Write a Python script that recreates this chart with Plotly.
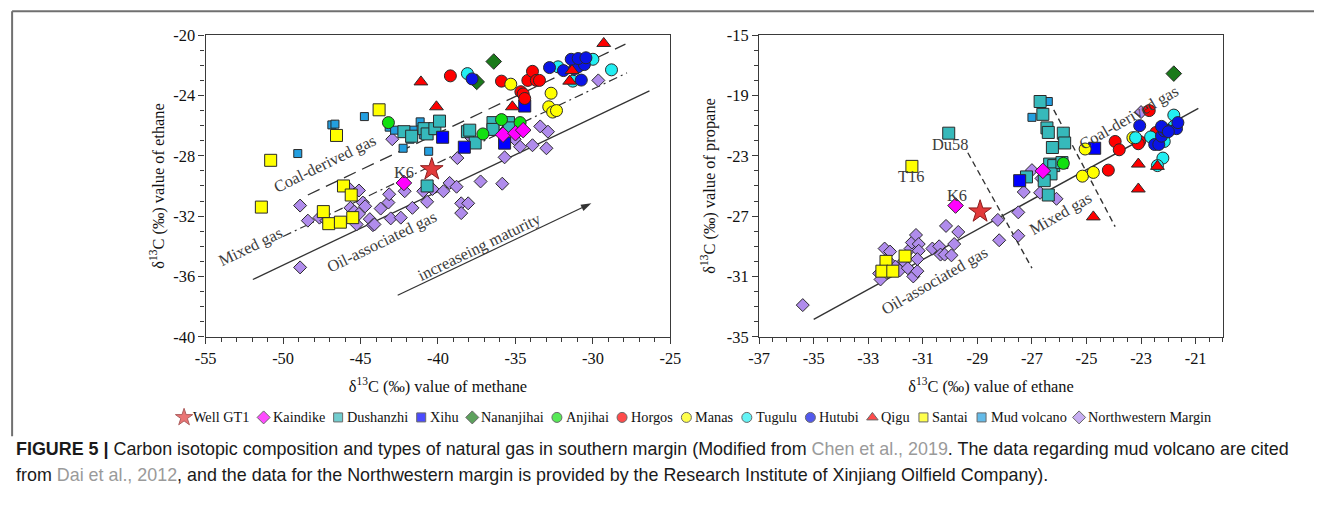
import plotly.graph_objects as go

# ---------------- DATA ----------------
# Left panel: delta13C methane (x) vs ethane (y)
gt1_c1 = [-40.4]
gt1_c2 = [-28.9]
kaindike_c1 = [-42.2, -35.8, -35.0, -34.5]
kaindike_c2 = [-29.8, -26.6, -26.5, -26.3]
dushanzhi_c1 = [-42.2, -41.7, -40.9, -40.7, -40.2, -39.9, -38.1, -37.6, -36.45, -36.45, -35.45, -35.4, -37.95, -40.7]
dushanzhi_c2 = [-26.4, -26.7, -26.2, -26.55, -26.2, -25.7, -26.4, -27.15, -25.8, -26.25, -25.8, -26.15, -26.3, -30.0]
xihu_c1 = [-39.7, -38.3, -35.7, -34.4]
xihu_c2 = [-26.77, -27.43, -27.16, -24.7]
nananjihai_c1 = [-36.4, -37.5]
nananjihai_c2 = [-21.75, -23.1]
anjihai_c1 = [-43.2, -37.1, -35.9, -34.7]
anjihai_c2 = [-25.8, -26.55, -25.6, -25.8]
horgos_c1 = [-39.2, -35.9, -34.2, -33.9, -33.65, -33.45, -34.65, -34.5, -34.4]
horgos_c2 = [-22.7, -23.05, -23.0, -22.4, -23.0, -23.0, -23.75, -23.9, -24.2]
manas_c1 = [-35.3, -32.7, -32.85, -32.6, -32.35]
manas_c2 = [-23.25, -23.85, -24.75, -25.1, -25.0]
tugulu_c1 = [-38.1, -32.25, -31.3, -30.0, -28.8]
tugulu_c2 = [-22.55, -22.1, -23.05, -21.6, -22.3]
hutubi_c1 = [-37.8, -32.8, -31.9, -31.2, -30.95, -30.55, -31.4, -30.95, -30.45, -30.75]
hutubi_c2 = [-22.9, -22.15, -22.35, -22.25, -22.1, -21.95, -21.6, -21.55, -21.5, -22.98]
qigu_c1 = [-41.1, -40.1, -35.2, -31.5, -31.35, -29.3]
qigu_c2 = [-23.1, -24.75, -24.75, -23.05, -22.35, -20.55]
santai_c1 = [-50.8, -51.4, -46.1, -45.6, -47.4, -47.05, -46.3, -45.5, -43.8, -46.55]
santai_c2 = [-28.3, -31.4, -30.0, -30.6, -31.7, -32.5, -32.4, -32.1, -24.95, -26.65]
mud_c1 = [-44.75, -46.85, -46.65, -49.05, -43.15, -42.8, -42.25, -41.8, -41.6, -41.15, -40.95, -40.6]
mud_c2 = [-25.4, -25.95, -25.9, -27.85, -26.1, -26.3, -27.5, -26.9, -26.3, -25.75, -26.6, -27.7]
nw_c1 = [-48.9, -48.9, -48.4, -47.65, -47.2, -45.8, -45.65, -45.4, -45.25, -45.1, -45.1, -44.85,
         -44.7, -44.4, -44.2, -44.1, -43.7, -43.2, -43.15, -43.05, -42.95, -42.4, -42.15, -41.65,
         -40.95, -40.7, -40.35, -39.65, -39.25, -38.8, -38.75, -38.5, -38.5, -38.05, -38.0, -37.25,
         -35.7, -35.85, -35.85, -35.05, -34.7, -33.9, -33.4, -33.0, -32.9, -29.65, -37.95]
nw_c2 = [-31.3, -35.4, -32.3, -32.1, -32.3, -30.1, -31.45, -31.7, -32.55, -30.3, -31.85, -31.1,
         -31.35, -32.2, -32.6, -32.55, -31.5, -31.1, -30.55, -32.15, -26.9, -32.1, -30.35, -31.45,
         -30.35, -31.05, -30.2, -30.35, -29.8, -30.05, -28.15, -31.15, -31.8, -31.15, -26.55, -29.7,
         -28.1, -29.85, -26.5, -26.9, -27.4, -27.3, -26.05, -27.5, -26.4, -23.0, -26.7]

# Right panel: delta13C ethane (x) vs propane (y)
gt1_r2 = [-28.9]
gt1_r3 = [-26.7]
kaindike_r2 = [-29.8, -26.6]
kaindike_r3 = [-26.3, -24.0]
dushanzhi_r2 = [-26.7, -26.6, -26.45, -26.4, -25.85, -25.8, -26.25, -26.35, -26.2, -26.3, -26.55, -27.2, -26.4, -25.9, -30.05]
dushanzhi_r3 = [-19.4, -20.25, -21.15, -21.45, -21.5, -22.15, -22.45, -23.55, -23.65, -24.2, -24.65, -24.4, -25.6, -23.45, -21.5]
xihu_r2 = [-27.45, -24.7]
xihu_r3 = [-24.65, -22.5]
nananjihai_r2 = [-21.8]
nananjihai_r3 = [-17.55]
anjihai_r2 = [-25.85]
anjihai_r3 = [-23.5]
horgos_r2 = [-22.7, -23.95, -23.8, -24.2, -23.05, -22.45, -23.1]
horgos_r3 = [-20.0, -22.05, -22.6, -23.95, -22.05, -21.45, -22.2]
manas_r2 = [-25.05, -25.15, -24.75, -23.3]
manas_r3 = [-22.55, -24.35, -24.1, -21.8]
tugulu_r2 = [-21.8, -23.2, -22.65, -22.15, -22.2, -21.8, -22.4]
tugulu_r3 = [-20.3, -21.8, -21.75, -22.05, -23.15, -21.05, -23.65]
hutubi_r2 = [-23.05, -22.5, -22.35, -22.25, -22.15, -22.05, -22.25, -21.7, -21.65, -22.0]
hutubi_r3 = [-21.0, -22.25, -22.25, -21.7, -21.35, -21.3, -21.05, -21.2, -20.8, -21.4]
qigu_r2 = [-23.1, -22.4, -23.1, -24.75]
qigu_r3 = [-23.55, -23.7, -25.2, -27.05]
santai_r2 = [-31.4, -31.65, -32.35, -32.5, -32.1]
santai_r3 = [-23.7, -29.65, -30.0, -30.65, -30.65]
mud_r2 = [-26.4, -27.0]
mud_r3 = [-19.4, -20.45]
nw_r2 = [-35.4, -32.6, -32.55, -32.4, -32.2, -32.2, -32.0, -31.85, -31.7, -31.55, -31.45, -31.4,
         -31.35, -31.25, -31.2, -31.15, -31.15, -31.2, -30.65, -30.4, -30.35, -30.2, -30.15, -29.95,
         -29.85, -29.7, -28.25, -28.2, -27.5, -27.5, -27.3, -27.0, -26.7, -26.65, -26.1, -23.0]
nw_r3 = [-32.9, -30.8, -31.2, -29.15, -29.35, -30.1, -30.35, -30.6, -30.0, -30.45, -29.15, -28.75,
         -31.0, -28.25, -30.65, -28.85, -29.3, -29.85, -29.15, -29.0, -29.55, -29.55, -27.65, -29.6,
         -28.85, -28.05, -27.25, -28.6, -26.75, -28.3, -25.4, -23.95, -25.45, -24.5, -25.85, -20.1]

# boundary lines and the maturity arrow (data units)
l_solid_x = [-51.95, -26.35]
l_solid_y = [-36.2, -23.7]
l_coal_x = [-48.4, -27.9]
l_coal_y = [-30.6, -20.6]
l_mixed_x = [-50.0, -27.8]
l_mixed_y = [-33.35, -22.5]
maturity_x = [-42.6, -30.1]
maturity_y = [-37.25, -31.15]
r_solid_x = [-35.0, -20.9]
r_solid_y = [-33.85, -19.85]
r_dash1_x = [-29.35, -27.0]
r_dash1_y = [-22.8, -30.45]
r_dash2_x = [-26.2, -23.95]
r_dash2_y = [-19.95, -27.7]

left_xticks = [-55, -50, -45, -40, -35, -30, -25]
left_xticktext = ["-55", "-50", "-45", "-40", "-35", "-30", "-25"]
left_yticks = [-20, -24, -28, -32, -36, -40]
left_yticktext = ["-20", "-24", "-28", "-32", "-36", "-40"]
right_xticks = [-37, -35, -33, -31, -29, -27, -25, -23, -21]
right_xticktext = ["-37", "-35", "-33", "-31", "-29", "-27", "-25", "-23", "-21"]
right_yticks = [-15, -19, -23, -27, -31, -35]
right_yticktext = ["-15", "-19", "-23", "-27", "-31", "-35"]

# ---------------- STYLE / GEOMETRY ----------------
SERIF = "Liberation Serif, Times New Roman, serif"
SANS = "Liberation Sans, Arial, sans-serif"
PW, PH = 1341, 511           # target picture size
BODY = 8                     # default page body margin around the plot div
W, H = PW - 2 * BODY, PH - 2 * BODY
SX, SY = 0.986, 0.966        # measured picture/page ratio of the photographed page
FS = 1.0 / ((SX + SY) / 2)   # font compensation
EDGE = "#2a2a2a"


def px(p):   # target picture x pixel -> paper fraction
    return (p / SX - BODY) / W


def py(p):   # target picture y pixel -> paper fraction
    return 1 - (p / SY - BODY) / H


# name, data..., symbol, colour, size, edge colour, legend symbol size
series = [
    ("Well GT1", gt1_c1, gt1_c2, gt1_r2, gt1_r3, "star", "#e23a3a", 17, "#8a1c1c", 13),
    ("Kaindike", kaindike_c1, kaindike_c2, kaindike_r2, kaindike_r3, "diamond", "#ff00ff", 12, EDGE, 10),
    ("Dushanzhi", dushanzhi_c1, dushanzhi_c2, dushanzhi_r2, dushanzhi_r3, "square", "#36b9bb", 12, EDGE, 9),
    ("Xihu", xihu_c1, xihu_c2, xihu_r2, xihu_r3, "square", "#0000ff", 12, EDGE, 9),
    ("Nananjihai", nananjihai_c1, nananjihai_c2, nananjihai_r2, nananjihai_r3, "diamond", "#1a7a1a", 12, EDGE, 10),
    ("Anjihai", anjihai_c1, anjihai_c2, anjihai_r2, anjihai_r3, "circle", "#11e011", 12, EDGE, 10),
    ("Horgos", horgos_c1, horgos_c2, horgos_r2, horgos_r3, "circle", "#ff0000", 12, EDGE, 10),
    ("Manas", manas_c1, manas_c2, manas_r2, manas_r3, "circle", "#ffff00", 12, EDGE, 10),
    ("Tugulu", tugulu_c1, tugulu_c2, tugulu_r2, tugulu_r3, "circle", "#22eef2", 12, EDGE, 10),
    ("Hutubi", hutubi_c1, hutubi_c2, hutubi_r2, hutubi_r3, "circle", "#0a14e6", 12, EDGE, 10),
    ("Qigu", qigu_c1, qigu_c2, qigu_r2, qigu_r3, "triangle-up", "#ff0000", 12, EDGE, 10),
    ("Santai", santai_c1, santai_c2, santai_r2, santai_r3, "square", "#ffff00", 12, EDGE, 9),
    ("Mud volcano", mud_c1, mud_c2, mud_r2, mud_r3, "square", "#239fe0", 8, EDGE, 9),
    ("Northwestern Margin", nw_c1, nw_c2, nw_r2, nw_r3, "diamond", "#b08cec", 10, EDGE, 10),
]
draw_order = [13, 12, 2, 11, 3, 4, 5, 6, 7, 8, 9, 10, 1, 0]

LC = "#333333"
fig = go.Figure()

line_specs = [
    (l_solid_x, l_solid_y, "x", "y", None, 1.3),
    (l_coal_x, l_coal_y, "x", "y", "13px,7px", 1.3),
    (l_mixed_x, l_mixed_y, "x", "y", "9px,4px,2px,4px", 1.2),
    (r_solid_x, r_solid_y, "x2", "y2", None, 1.4),
    (r_dash1_x, r_dash1_y, "x2", "y2", "6px,4px", 1.4),
    (r_dash2_x, r_dash2_y, "x2", "y2", "6px,4px", 1.4),
]
for lx, ly, xa, ya, dash, lw in line_specs:
    ln = dict(color=LC, width=lw)
    if dash:
        ln["dash"] = dash
    fig.add_trace(go.Scatter(x=lx, y=ly, mode="lines", line=ln, showlegend=False,
                             hoverinfo="skip", xaxis=xa, yaxis=ya))

fig.add_trace(go.Scatter(x=maturity_x, y=maturity_y, mode="lines+markers",
                         line=dict(color=LC, width=1.2),
                         marker=dict(symbol=["circle", "arrow"], size=[0, 11], angleref="previous",
                                     color=LC, opacity=[0, 1], line=dict(width=0)),
                         showlegend=False, hoverinfo="skip", xaxis="x", yaxis="y"))

for i in draw_order:
    name, c1, c2, r2, r3, sym, col, size, lc, _ = series[i]
    mk = dict(symbol=sym, color=col, size=size, line=dict(color=lc, width=1))
    fig.add_trace(go.Scatter(x=c1, y=c2, mode="markers", name=name, marker=mk,
                             xaxis="x", yaxis="y", showlegend=False))
    fig.add_trace(go.Scatter(x=r2, y=r3, mode="markers", name=name, marker=mk,
                             xaxis="x2", yaxis="y2", showlegend=False))

# ---------------- one-row legend laid out from its labels ----------------
GLYPH = {" ": 250, "a": 444, "b": 500, "c": 444, "d": 500, "e": 444, "f": 333, "g": 500, "h": 500,
         "i": 278, "j": 278, "k": 500, "l": 278, "m": 778, "n": 500, "o": 500, "p": 500, "q": 500,
         "r": 333, "s": 389, "t": 278, "u": 500, "v": 500, "w": 722, "x": 500, "y": 500, "z": 444,
         "A": 722, "D": 722, "G": 722, "H": 722, "K": 722, "M": 889, "N": 722, "Q": 722, "S": 556,
         "T": 611, "W": 944, "X": 722, "1": 500}
LEG_FONT = 14.3
LEG_CENTER = 692        # picture pixels
LEG_Y = 418
SYM_TO_TEXT = 7
TEXT_TO_SYM = 16


def text_w(s):  # width of a label in picture pixels
    return sum(GLYPH.get(ch, 500) for ch in s) * LEG_FONT / 1000.0 * SX


widths = [text_w(s[0]) for s in series]
total = 5 + sum(widths) + len(series) * SYM_TO_TEXT + (len(series) - 1) * TEXT_TO_SYM
cur = LEG_CENTER - total / 2 + 5
leg_x, leg_tx = [], []
for wdt in widths:
    leg_x.append(cur)
    leg_tx.append(cur + SYM_TO_TEXT)
    cur = cur + SYM_TO_TEXT + wdt + TEXT_TO_SYM

fig.add_trace(go.Scatter(
    x=leg_x, y=[0.5] * len(series), mode="markers", showlegend=False, hoverinfo="skip",
    marker=dict(symbol=[s[5] for s in series], color=[s[6] for s in series],
                size=[s[9] for s in series], line=dict(color=[s[8] for s in series], width=1)),
    xaxis="x3", yaxis="y3"))
for (s, tx) in zip(series, leg_tx):
    fig.add_annotation(text=s[0], x=tx, y=0.5, xref="x3", yref="y3", xanchor="left",
                       yanchor="middle", showarrow=False,
                       font=dict(family=SERIF, size=LEG_FONT, color="#111"))

# ---------------- LAYOUT ----------------
L_X0, L_X1 = 203, 669
R_X0, R_X1 = 758, 1223
Y_TOP, Y_BOT = 34, 337

ydom = [py(Y_BOT), py(Y_TOP)]
tickfont = dict(family=SERIF, size=16 * FS, color="#111")
titlefont = dict(family=SERIF, size=16 * FS, color="#111")
axcommon = dict(showline=True, linecolor="#3a3a3a", linewidth=1.3, mirror=True, ticks="outside",
                ticklen=6, tickcolor="#3a3a3a", tickwidth=1, showgrid=False, zeroline=False,
                tickfont=tickfont, tickmode="array")
minor_kw = dict(ticks="outside", ticklen=4, tickcolor="#3a3a3a")

fig.update_layout(
    width=W, height=H, autosize=False,
    margin=dict(l=0, r=0, t=0, b=0),
    paper_bgcolor="white", plot_bgcolor="rgba(0,0,0,0)",
    showlegend=False,
    xaxis=dict(domain=[px(L_X0), px(L_X1)], range=[-55, -25], anchor="y",
               tickvals=left_xticks, ticktext=left_xticktext,
               minor=dict(tick0=-55, dtick=1, **minor_kw),
               title=dict(text="δ<sup>13</sup>C (‰) value of methane", font=titlefont, standoff=13),
               **axcommon),
    yaxis=dict(domain=ydom, range=[-40, -20], anchor="x",
               tickvals=left_yticks, ticktext=left_yticktext,
               minor=dict(tick0=-40, dtick=1, **minor_kw),
               title=dict(text="δ<sup>13</sup>C (‰) value of ethane", font=titlefont, standoff=4),
               **axcommon),
    xaxis2=dict(domain=[px(R_X0), px(R_X1)], range=[-37, -20], anchor="y2",
                tickvals=right_xticks, ticktext=right_xticktext,
                minor=dict(tick0=-37, dtick=0.5, **minor_kw),
                title=dict(text="δ<sup>13</sup>C (‰) value of ethane", font=titlefont, standoff=13),
                **axcommon),
    yaxis2=dict(domain=ydom, range=[-35, -15], anchor="x2",
                tickvals=right_yticks, ticktext=right_yticktext,
                minor=dict(tick0=-35, dtick=1, **minor_kw),
                title=dict(text="δ<sup>13</sup>C (‰) value of propane", font=titlefont, standoff=7),
                **axcommon),
    xaxis3=dict(domain=[0, 1], range=[BODY * SX, (BODY + W) * SX], anchor="y3", visible=False,
                fixedrange=True),
    yaxis3=dict(domain=[py(LEG_Y + 12), py(LEG_Y - 12)], range=[0, 1], anchor="x3",
                visible=False, fixedrange=True),
)

GRAY = "#3c3c3c"
anns = [
    dict(text="Coal-derived gas", x=-47.3, y=-28.5, xref="x", yref="y", textangle=-26),
    dict(text="Mixed gas", x=-52.1, y=-34.0, xref="x", yref="y", textangle=-26),
    dict(text="Oil-associated gas", x=-43.6, y=-33.7, xref="x", yref="y", textangle=-26),
    dict(text="increaseing maturity", x=-37.3, y=-34.0, xref="x", yref="y", textangle=-26),
    dict(text="K6", x=-42.2, y=-29.1, xref="x", yref="y", textangle=0),
    dict(text="Coal-derived gas", x=-23.45, y=-20.45, xref="x2", yref="y2", textangle=-30),
    dict(text="Mixed gas", x=-25.95, y=-26.8, xref="x2", yref="y2", textangle=-30),
    dict(text="Oil-associated gas", x=-30.55, y=-31.3, xref="x2", yref="y2", textangle=-30),
    dict(text="Du58", x=-30.0, y=-22.25, xref="x2", yref="y2", textangle=0),
    dict(text="T16", x=-31.45, y=-24.4, xref="x2", yref="y2", textangle=0),
    dict(text="K6", x=-29.75, y=-25.6, xref="x2", yref="y2", textangle=0),
]
for a in anns:
    fig.add_annotation(showarrow=False, font=dict(family=SERIF, size=16 * FS, color=GRAY), **a)

# caption
LINK = "#9a9a9a"
CAP_FONT = 17.9
cap1 = ("<b>FIGURE 5 |</b> Carbon isotopic composition and types of natural gas in southern margin "
        "(Modified from <span style='color:%s'>Chen et al., 2019</span>. The data regarding mud volcano are cited" % LINK)
cap2 = ("from <span style='color:%s'>Dai et al., 2012</span>, and the data for the Northwestern margin "
        "is provided by the Research Institute of Xinjiang Oilfield Company)." % LINK)
fig.add_annotation(text=cap1, x=px(11), y=py(450), xref="paper", yref="paper", xanchor="left",
                   yanchor="middle", showarrow=False, font=dict(family=SANS, size=CAP_FONT, color="#1a1a1a"))
fig.add_annotation(text=cap2, x=px(11), y=py(476), xref="paper", yref="paper", xanchor="left",
                   yanchor="middle", showarrow=False, font=dict(family=SANS, size=CAP_FONT, color="#1a1a1a"))

# outer frame (top and left edges)
fig.add_shape(type="line", xref="paper", yref="paper", x0=px(9), y0=py(10), x1=1, y1=py(10),
              line=dict(color="#707070", width=2))
fig.add_shape(type="line", xref="paper", yref="paper", x0=px(9), y0=py(10), x1=px(9), y1=py(437),
              line=dict(color="#707070", width=2))

fig.write_html("out.html")
